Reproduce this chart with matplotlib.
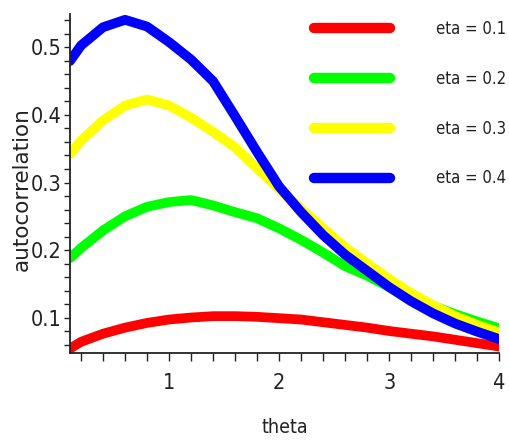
import matplotlib
matplotlib.use("Agg")
import matplotlib.pyplot as plt
from matplotlib import font_manager as fm
from matplotlib.ticker import MultipleLocator, FormatStrFormatter

# values
theta = [0.1, 0.2, 0.4, 0.6, 0.8, 1.0, 1.2, 1.4, 1.6, 1.8, 2.0,
         2.2, 2.4, 2.6, 2.8, 3.0, 3.2, 3.4, 3.6, 3.8, 4.0]
eta_01 = [0.054, 0.064, 0.076, 0.085, 0.092, 0.097, 0.100, 0.102, 0.102, 0.101, 0.099,
          0.097, 0.093, 0.089, 0.085, 0.080, 0.076, 0.072, 0.067, 0.062, 0.057]
eta_02 = [0.188, 0.203, 0.229, 0.250, 0.264, 0.271, 0.274, 0.266, 0.256, 0.247, 0.232,
          0.215, 0.196, 0.176, 0.162, 0.145, 0.130, 0.117, 0.105, 0.094, 0.084]
eta_03 = [0.342, 0.362, 0.392, 0.414, 0.423, 0.414, 0.396, 0.375, 0.352, 0.321, 0.290,
          0.261, 0.232, 0.204, 0.180, 0.157, 0.136, 0.118, 0.102, 0.089, 0.078]
eta_04 = [0.480, 0.503, 0.530, 0.541, 0.531, 0.508, 0.482, 0.450, 0.398, 0.345, 0.294,
          0.256, 0.222, 0.193, 0.169, 0.145, 0.124, 0.106, 0.091, 0.079, 0.068]
labels = ["eta = 0.1", "eta = 0.2", "eta = 0.3", "eta = 0.4"]
colors = ["#ff0000", "#00ff00", "#ffff00", "#0000ff"]

# look for a narrow font, else fall back to Liberation Sans
cond = [f for f in fm.fontManager.ttflist
        if f.stretch in ("condensed", "semi-condensed", "extra-condensed")
        or "Narrow" in f.name or "Condensed" in f.name]
if cond:
    tick_font = {"family": [cond[0].name, "DejaVu Sans"], "stretch": cond[0].stretch}
    tick_size, leg_size, xl_size = 15.5, 12, 14
else:
    tick_font = {"family": ["Liberation Sans", "DejaVu Sans"]}
    tick_size, leg_size, xl_size = 15, 12, 13

fig = plt.figure(figsize=(5.1, 4.43), dpi=100)
ax = fig.add_axes([0.1373, 0.2025, 0.8417, 0.7665])

for ys, c, lab in zip([eta_01, eta_02, eta_03, eta_04], colors, labels):
    ax.plot(theta, ys, color=c, lw=7, solid_capstyle="round", label=lab)

ax.set_xlim(0.1, 4.0)
ax.set_ylim(0.047, 0.55)

for s in ["top", "right"]:
    ax.spines[s].set_visible(False)
for s in ["left", "bottom"]:
    ax.spines[s].set_linewidth(1.3)
    ax.spines[s].set_color("#222222")

ax.xaxis.set_major_locator(MultipleLocator(1))
ax.xaxis.set_minor_locator(MultipleLocator(0.2))
ax.xaxis.set_major_formatter(FormatStrFormatter("%d"))
ax.yaxis.set_major_locator(MultipleLocator(0.1))
ax.yaxis.set_minor_locator(MultipleLocator(0.02))
ax.yaxis.set_major_formatter(FormatStrFormatter("%.1f"))

ax.tick_params(axis="x", which="both", direction="out", length=5.5, width=1, color="#222222", pad=9)
ax.tick_params(axis="y", which="both", direction="out", length=4.5, width=1, color="#222222", pad=1.5)
for t in ax.get_xticklabels() + ax.get_yticklabels():
    t.set_fontproperties(fm.FontProperties(size=tick_size, **tick_font))
    t.set_color("#222222")

ax.set_xlabel("theta", fontproperties=fm.FontProperties(size=xl_size, **tick_font), color="#222222")
ax.xaxis.set_label_coords(0.5, -0.19)
ax.set_ylabel("autocorrelation", family="DejaVu Sans", fontsize=15.5, color="#222222")
ax.yaxis.set_label_coords(-0.09, 0.484)

F = leg_size * 100 / 72.0   # legend font size in pixels
leg = ax.legend(loc="upper left", bbox_to_anchor=(0.568, 0.982), frameon=False,
                handlelength=76.6 / F, handletextpad=45.5 / F, labelspacing=(47 - 0.91 * F) / F,
                borderpad=0, borderaxespad=0,
                prop=fm.FontProperties(size=leg_size, **tick_font))
for h in leg.get_lines():
    h.set_linewidth(7.5)
for t in leg.get_texts():
    t.set_color("#222222")

fig.savefig("out.png", dpi=100)
